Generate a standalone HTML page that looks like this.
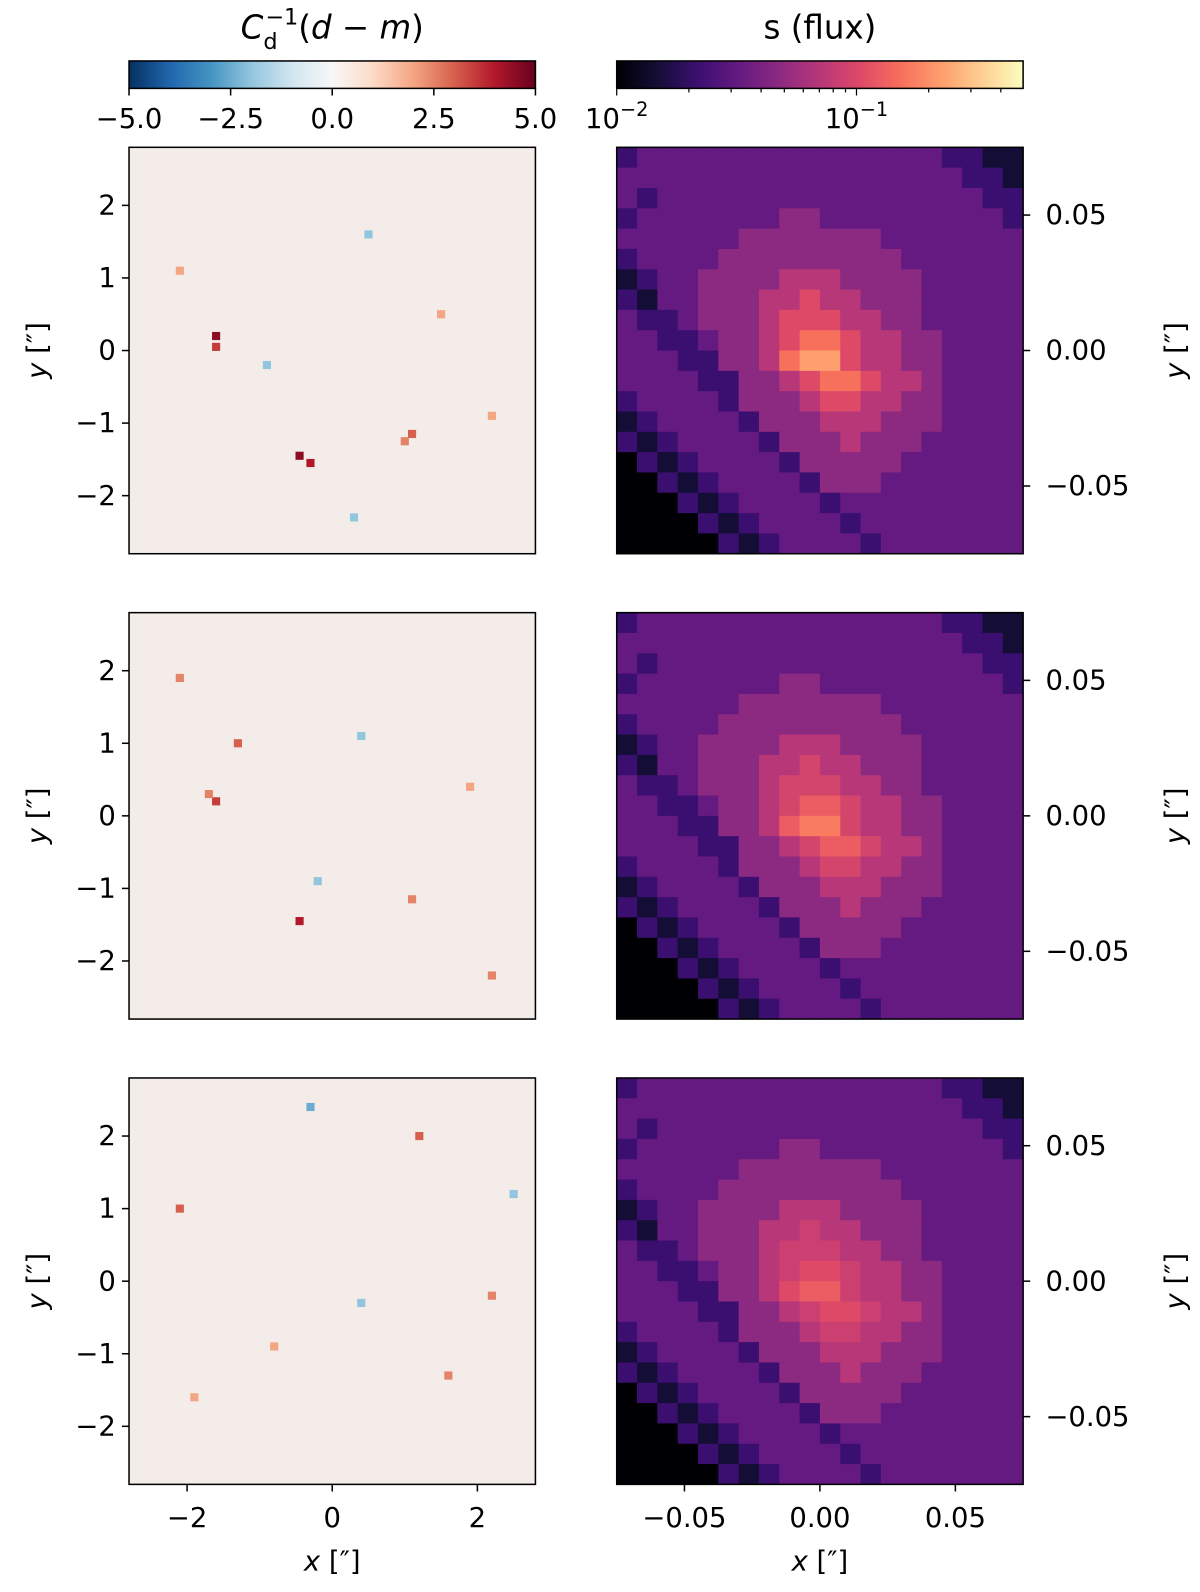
<!DOCTYPE html>
<html><head><meta charset="utf-8">
<style>
html,body{margin:0;padding:0;background:#fff;overflow:hidden;width:1200px;height:1592px;}
svg{display:block;}
svg text{font-family:"DejaVu Sans","Liberation Sans",sans-serif;fill:#000;}
</style></head>
<body>
<svg id="fig" width="1200" height="1592" viewBox="0 0 1200 1592" xmlns="http://www.w3.org/2000/svg">
<defs>
<linearGradient id="rdbu" x1="0" x2="1" y1="0" y2="0">
<stop offset="0" stop-color="#053061"/><stop offset="0.1" stop-color="#2166ac"/><stop offset="0.2" stop-color="#4393c3"/><stop offset="0.3" stop-color="#92c5de"/><stop offset="0.4" stop-color="#d1e5f0"/><stop offset="0.5" stop-color="#f7f7f7"/><stop offset="0.6" stop-color="#fddbc7"/><stop offset="0.7" stop-color="#f4a582"/><stop offset="0.8" stop-color="#d6604d"/><stop offset="0.9" stop-color="#b2182b"/><stop offset="1" stop-color="#67001f"/>
</linearGradient>
<linearGradient id="magma" x1="0" x2="1" y1="0" y2="0">
<stop offset="0" stop-color="#000004"/><stop offset="0.1" stop-color="#140e36"/><stop offset="0.2" stop-color="#3b0f70"/><stop offset="0.3" stop-color="#641a80"/><stop offset="0.4" stop-color="#8c2981"/><stop offset="0.5" stop-color="#b73779"/><stop offset="0.6" stop-color="#de4968"/><stop offset="0.7" stop-color="#f7705c"/><stop offset="0.8" stop-color="#fe9f6d"/><stop offset="0.9" stop-color="#fecf92"/><stop offset="1" stop-color="#fcfdbf"/>
</linearGradient>
</defs>
<g id="root" transform="scale(1.016)"></g>
</svg>
<script>
// flux grid (20x20), digit = magma level 0..9 (log scale)
const fluxRows = [
"23333333333333332211","33333333333333333221","32333333333333333322","23333333443333333332",
"33333344444443333333","23333444444444333333","12334444555444433333","21334445565544433333",
"32234445666554433333","33223445677655443333","33322445788655443333","33332244567765543333",
"23333244456655443333","12333324445554443333","21233332444544433333","02123333244444333333",
"00212333324443333333","00021233332333333333","00002123333233333333","00000212333323333333"];
const peakAdjust = [0, -1, -2];
// residual hot spots per panel: [x arcsec, y arcsec, value]
const resSpots1 = [[-1.6,0.2,4.5],[-1.6,0.05,3.5],[-0.45,-1.45,4.5],[-0.3,-1.55,4],[1.1,-1.15,3],[1.0,-1.25,2.5],[-2.1,1.1,2],[0.5,1.6,-2],[1.5,0.5,2],[-0.9,-0.2,-2],[2.2,-0.9,2],[0.3,-2.3,-2]];
const resSpots2 = [[-1.6,0.2,3.5],[-1.7,0.3,2.5],[-0.45,-1.45,4],[1.1,-1.15,2.5],[-2.1,1.9,2.5],[-1.3,1.0,3],[0.4,1.1,-2],[1.9,0.4,2],[-0.2,-0.9,-2],[2.2,-2.2,2.5]];
const resSpots3 = [[-2.1,1.0,3],[1.2,2.0,3],[-0.8,-0.9,2],[0.4,-0.3,-2],[2.2,-0.2,2.5],[-1.9,-1.6,2],[1.6,-1.3,2.5],[-0.3,2.4,-2.5],[2.5,1.2,-2]];
const resTicks = [-2,-1,0,1,2];
const xResTicks = [-2,0,2];
const fluxTicks = [0.05,0,-0.05];
const fluxTickLabels = ["0.05","0.00","\u22120.05"];
const xFluxTicks = [-0.05,0,0.05];
const xFluxTickLabels = ["\u22120.05","0.00","0.05"];
const cbLeftTicks = [-5,-2.5,0,2.5,5];
const cbLeftLabels = ["\u22125.0","\u22122.5","0.0","2.5","5.0"];

const NS="http://www.w3.org/2000/svg";
const root=document.getElementById('root');
function el(t,a,p){const e=document.createElementNS(NS,t);for(const k in a)e.setAttribute(k,a[k]);(p||root).appendChild(e);return e;}
const magmaStops=["#000004","#140e36","#3b0f70","#641a80","#8c2981","#b73779","#de4968","#f7705c","#fe9f6d","#fecf92","#fcfdbf"];
const rdbuStops=["#053061","#2166ac","#4393c3","#92c5de","#d1e5f0","#f7f7f7","#fddbc7","#f4a582","#d6604d","#b2182b","#67001f"];
function hex(h){return [1,3,5].map(i=>parseInt(h.substr(i,2),16));}
function cmap(stops,t){t=Math.max(0,Math.min(1,t));const f=t*(stops.length-1),i=Math.min(stops.length-2,Math.floor(f)),r=f-i;const a=hex(stops[i]),b=hex(stops[i+1]);return 'rgb('+a.map((v,k)=>Math.round(v+(b[k]-v)*r)).join(',')+')';}

const L0=127,R0=607,W=400,rowsY=[145,603,1061];
const resScale=v=>W/2/2.8*v;
const fluxScale=v=>W/2/0.075*v;
const CBY=60,CBH=27;

const cbL=el('g',{});
el('rect',{x:L0,y:CBY,width:W,height:CBH,fill:'url(#rdbu)',stroke:'#000','stroke-width':1.5},cbL);
cbLeftTicks.forEach((v,i)=>{const x=L0+(v+5)/10*W;el('line',{x1:x,x2:x,y1:CBY+CBH,y2:CBY+CBH+7,stroke:'#000','stroke-width':1.5},cbL);const t=el('text',{x:x,y:126,'font-size':27,'text-anchor':'middle'},cbL);t.textContent=cbLeftLabels[i];});
const cbR=el('g',{});
el('rect',{x:R0,y:CBY,width:W,height:CBH,fill:'url(#magma)',stroke:'#000','stroke-width':1.5},cbR);
const dec=236;
[0.01,0.02,0.03,0.04,0.05,0.06,0.07,0.08,0.09,0.1,0.2,0.3,0.4].forEach(v=>{const x=R0+(Math.log10(v)+2)*dec;const maj=(v===0.01||v===0.1);el('line',{x1:x,x2:x,y1:CBY+CBH,y2:CBY+CBH+(maj?7:4),stroke:'#000','stroke-width':1.2},cbR);});
let t=el('text',{x:R0,y:126,'font-size':27,'text-anchor':'middle'},cbR);t.innerHTML='10<tspan dy="-12" font-size="19">\u22122</tspan>';
t=el('text',{x:R0+dec,y:126,'font-size':27,'text-anchor':'middle'},cbR);t.innerHTML='10<tspan dy="-12" font-size="19">\u22121</tspan>';
t=el('text',{x:327,y:38,'font-size':32,'text-anchor':'middle'});
t.innerHTML='<tspan font-style="italic">C</tspan><tspan dy="10" font-size="22">d</tspan><tspan dy="-24" dx="-12" font-size="22">\u22121</tspan><tspan dy="14">(</tspan><tspan font-style="italic">d</tspan> \u2212 <tspan font-style="italic">m</tspan>)';
t=el('text',{x:807,y:38,'font-size':32,'text-anchor':'middle'});t.textContent='s (flux)';

const spots=[resSpots1,resSpots2,resSpots3];
rowsY.forEach((Y,ri)=>{
  const g=el('g',{});
  el('rect',{x:L0,y:Y,width:W,height:W,fill:'#f3ece9'},g);
  const cs=8;
  spots[ri].forEach(s=>{const cx=L0+W/2+resScale(s[0]),cy=Y+W/2-resScale(s[1]);
    const r=el('rect',{x:cx-cs/2,y:cy-cs/2,width:cs,height:cs,fill:cmap(rdbuStops,(s[2]+5)/10)},g);
    });
  el('rect',{x:L0,y:Y,width:W,height:W,fill:'none',stroke:'#000','stroke-width':1.5},g);
  resTicks.forEach(v=>{const y=Y+W/2-resScale(v);el('line',{x1:L0-7,x2:L0,y1:y,y2:y,stroke:'#000','stroke-width':1.5},g);
    const tt=el('text',{x:L0-13,y:y+9,'font-size':27,'text-anchor':'end'},g);tt.textContent=v<0?'\u2212'+(-v):String(v);});
  const yl=el('text',{x:0,y:0,'font-size':27,'text-anchor':'middle',transform:'translate(46,'+(Y+W/2)+') rotate(-90)'},g);
  
  yl.innerHTML='<tspan font-style="italic">y</tspan> [\u2033]';
  const f=el('g',{});
  const n=fluxRows.length,c=W/n;
  fluxRows.forEach((row,r)=>{[...row].forEach((ch,col)=>{let d=+ch;if(d>=6)d=d+peakAdjust[ri]*(d-5)/4;
    const cell=el('rect',{x:R0+col*c,y:Y+r*c,width:c+0.5,height:c+0.5,fill:cmap(magmaStops,d/10+(d>=9?0.05:0))},f);
    });});
  el('rect',{x:R0,y:Y,width:W,height:W,fill:'none',stroke:'#000','stroke-width':1.5},f);
  fluxTicks.forEach((v,i)=>{const y=Y+W/2-fluxScale(v);el('line',{x1:R0+W,x2:R0+W+7,y1:y,y2:y,stroke:'#000','stroke-width':1.5},f);
    const tt=el('text',{x:R0+W+22,y:y+9,'font-size':27},f);tt.textContent=fluxTickLabels[i];});
  const yr=el('text',{x:0,y:0,'font-size':27,'text-anchor':'middle',transform:'translate(1166,'+(Y+W/2)+') rotate(-90)'},f);
  
  yr.innerHTML='<tspan font-style="italic">y</tspan> [\u2033]';
  if(ri===2){
    xResTicks.forEach(v=>{const x=L0+W/2+resScale(v);el('line',{x1:x,x2:x,y1:Y+W,y2:Y+W+7,stroke:'#000','stroke-width':1.5},g);
      const tt=el('text',{x:x,y:Y+W+42,'font-size':27,'text-anchor':'middle'},g);tt.textContent=v<0?'\u2212'+(-v):String(v);});
    xFluxTicks.forEach((v,i)=>{const x=R0+W/2+fluxScale(v);el('line',{x1:x,x2:x,y1:Y+W,y2:Y+W+7,stroke:'#000','stroke-width':1.5},f);
      const tt=el('text',{x:x,y:Y+W+42,'font-size':27,'text-anchor':'middle'},f);tt.textContent=xFluxTickLabels[i];});
    [327,807].forEach(x=>{const xl=el('text',{x:x,y:Y+W+85,'font-size':27,'text-anchor':'middle'});
      
      xl.innerHTML='<tspan font-style="italic">x</tspan> [\u2033]';});
  }
});
</script>
</body></html>
